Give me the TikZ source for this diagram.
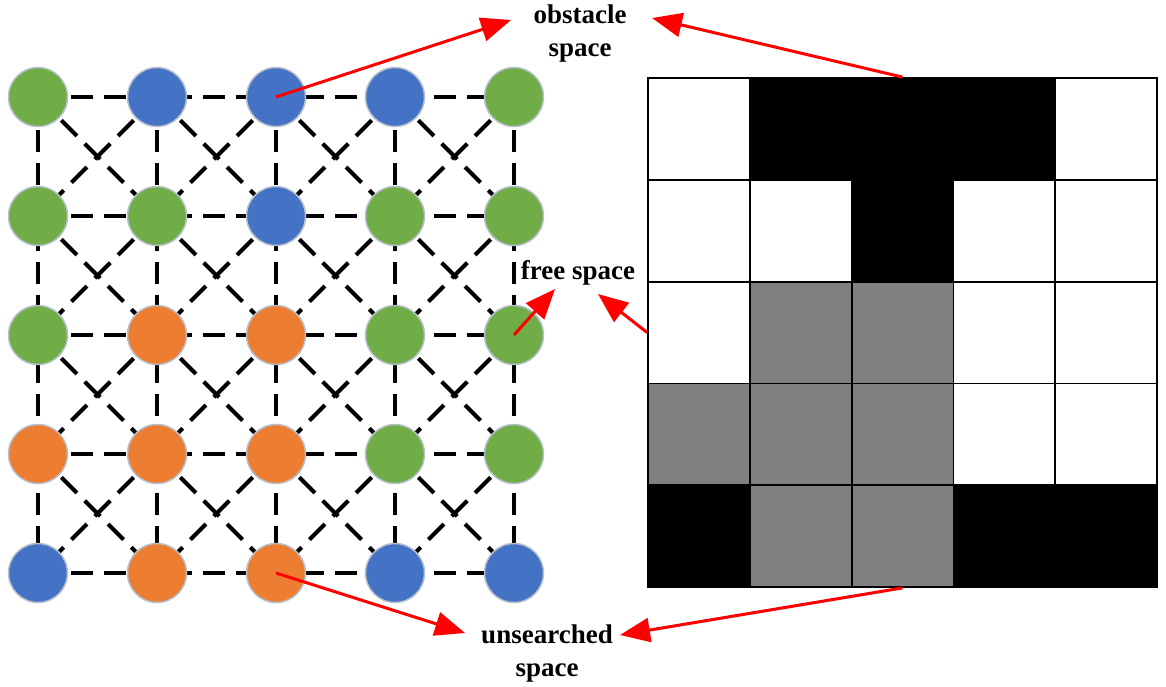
\documentclass[tikz,border=0pt]{standalone}
\usepackage{fontspec}
\setmainfont{Liberation Serif}
\usetikzlibrary{arrows.meta}
\definecolor{cgreen}{HTML}{70AD47}
\definecolor{cblue}{HTML}{4472C4}
\definecolor{corange}{HTML}{ED7D31}
\definecolor{cedge}{HTML}{B7C0CC}
\definecolor{cgray}{HTML}{808080}
\definecolor{cred}{HTML}{FF0000}
\pgfdeclarelayer{background}
\pgfsetlayers{background,main}
\begin{document}
\begin{tikzpicture}[x=1pt,y=-1pt,
  link/.style={line width=4pt, dash pattern=on 22pt off 11pt},
  dot/.style={circle, minimum size=59pt, inner sep=0pt, draw=cedge, line width=1.5pt},
  cell/.style={rectangle, minimum size=101.8pt, inner sep=0pt, draw=black, line width=1.8pt},
  lbl/.style={font=\fontsize{27pt}{33pt}\selectfont\bfseries, align=center, inner sep=0pt},
  pointer/.style={draw=cred, line width=3pt, -{Triangle[length=30pt,width=24pt]}}
]
\useasboundingbox (0,0) rectangle (1166,686);

% circles
\foreach \i/\j/\col in {
  1/1/cgreen,1/2/cblue,1/3/cblue,1/4/cblue,1/5/cgreen,
  2/1/cgreen,2/2/cgreen,2/3/cblue,2/4/cgreen,2/5/cgreen,
  3/1/cgreen,3/2/corange,3/3/corange,3/4/cgreen,3/5/cgreen,
  4/1/corange,4/2/corange,4/3/corange,4/4/cgreen,4/5/cgreen,
  5/1/cblue,5/2/corange,5/3/corange,5/4/cblue,5/5/cblue}{
  \node[dot, fill=\col] (c\i\j) at ({38+119*(\j-1)},{97+119*(\i-1)}) {};
}

% dashed links
\begin{pgfonlayer}{background}
\fill[white] (0,0) rectangle (1166,686);
\foreach \i in {1,...,5}{
  \draw[link] (c\i1.center) -- (c\i5.center);
  \draw[link] (c1\i.center) -- (c5\i.center);
}
\foreach \i/\ii in {1/2,2/3,3/4,4/5}{
  \foreach \j/\jj in {1/2,2/3,3/4,4/5}{
    \draw[link] (c\i\j.center) -- (c\ii\jj.center);
    \draw[link] (c\i\jj.center) -- (c\ii\j.center);
  }
}
\end{pgfonlayer}

% occupancy grid
\foreach \i/\j/\col in {
  1/1/white,1/2/black,1/3/black,1/4/black,1/5/white,
  2/1/white,2/2/white,2/3/black,2/4/white,2/5/white,
  3/1/white,3/2/cgray,3/3/cgray,3/4/white,3/5/white,
  4/1/cgray,4/2/cgray,4/3/cgray,4/4/white,4/5/white,
  5/1/black,5/2/cgray,5/3/cgray,5/4/black,5/5/black}{
  \node[cell, fill=\col] (g\i\j) at ({648+101.8*(\j-0.5)},{78+101.8*(\i-0.5)}) {};
}

% labels
\node[lbl] (obs) at (580,34) {obstacle\\space};
\node[lbl] (free) at (578,273) {free space};
\node[lbl] (uns) at (547,653) {unsearched\\space};

% arrow tips
\coordinate (t1) at (511,20);
\coordinate (t2) at (652,18);
\coordinate (t3) at (555,289);
\coordinate (t4) at (598,294);
\coordinate (t5) at (465,633);
\coordinate (t6) at (620,635);

\draw[pointer] (c13.center) -- (t1);
\draw[pointer] (g13.north) -- (t2);
\draw[pointer] (c35.center) -- (t3);
\draw[pointer] (g31.west) -- (t4);
\draw[pointer] (c53.center) -- (t5);
\draw[pointer] (g53.south) -- (t6);
\end{tikzpicture}
\end{document}
